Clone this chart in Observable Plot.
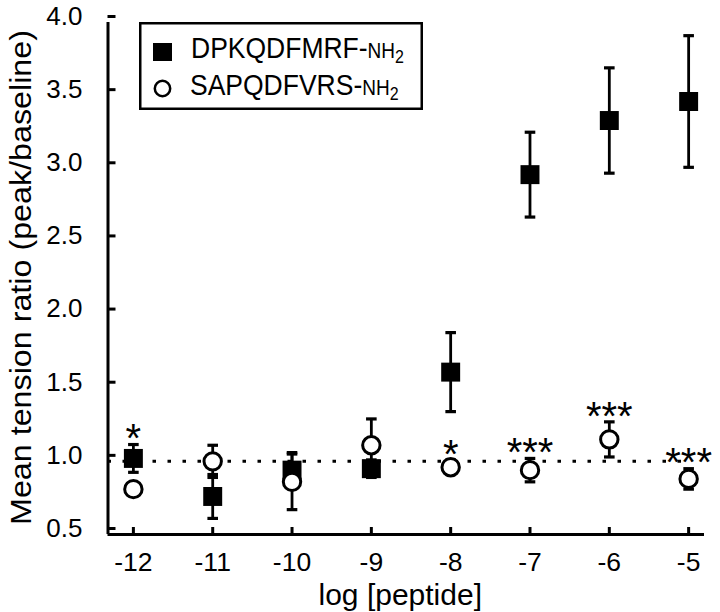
<!DOCTYPE html>
<html>
<head>
<meta charset="utf-8">
<script src="https://cdn.jsdelivr.net/npm/d3@7"></script>
<script src="https://cdn.jsdelivr.net/npm/@observablehq/plot@0.6"></script>
<style>
  body { margin: 0; background: #fff; }
  #wrap { position: relative; width: 720px; height: 612px; font-family: "Liberation Sans", Arial, Helvetica, sans-serif; }
  #legend { position: absolute; left: 139px; top: 22px; }
</style>
</head>
<body>
<div id="wrap"></div>
<script>
// ---- data ----
const conc = [-12, -11, -10, -9, -8, -7, -6, -5];
const seriesPeptide = ["DPKQDFMRF", "SAPQDFVRS"];
const seriesSuffix = "NH";
const seriesSub = "2";
const dpkMean = [1.02, 0.76, 0.94, 0.95, 1.61, 2.96, 3.33, 3.46];
const dpkSem  = [0.095, 0.15, 0.12, 0.06, 0.27, 0.29, 0.36, 0.45];
const sapMean = [0.81, 1.00, 0.86, 1.11, 0.96, 0.94, 1.15, 0.88];
const sapSem  = [0.02, 0.11, 0.19, 0.18, 0.05, 0.08, 0.12, 0.07];
const sigConc   = [-12, -8, -7, -6, -5];
const sigLabel  = ["*", "*", "***", "***", "***"];
const sigSeries = [0, 1, 1, 1, 1];
const yTicks = [0.5, 1.0, 1.5, 2.0, 2.5, 3.0, 3.5, 4.0];
const xTicks = conc;
const baseline = [1.0];
const xLabel = "log [peptide]";
const yLabel = "Mean tension ratio (peak/baseline)";

// ---- build tables ----
const means = [dpkMean, sapMean], sems = [dpkSem, sapSem];
const rows = [];
conc.forEach((c, i) => {
  rows.push({series: 0, conc: c, mean: dpkMean[i], sem: dpkSem[i]});
  rows.push({series: 1, conc: c, mean: sapMean[i], sem: sapSem[i]});
});
const sigRows = sigConc.map((c, i) => {
  const k = conc.indexOf(c), s = sigSeries[i];
  return {conc: c, label: sigLabel[i], top: means[s][k] + sems[s][k]};
});
const xDomain = [-12.32, -4.8];
const yDomain = [0.5, 4.0];
const FONT = "Liberation Sans, Arial, Helvetica, sans-serif";

const capSymbol = {
  draw(context, size) {
    const w = Math.sqrt(size / Math.PI);
    context.moveTo(-w, 0);
    context.lineTo(w, 0);
  }
};

const chart = Plot.plot({
  width: 720,
  height: 612,
  marginLeft: 107.5,
  marginRight: 16,
  marginTop: 22,
  marginBottom: 78,
  style: {fontFamily: FONT, background: "white", color: "black"},
  x: {domain: xDomain},
  y: {domain: yDomain},
  marks: [
    Plot.ruleY(baseline, {x1: xDomain[0], x2: conc[conc.length - 1], stroke: "black", strokeWidth: 3, strokeDasharray: "3.5,11.5"}),
    Plot.ruleX(rows, {x: "conc", y1: d => d.mean - d.sem, y2: d => d.mean + d.sem, stroke: "black", strokeWidth: 2.8}),
    Plot.dot(rows, {x: "conc", y: d => d.mean + d.sem, symbol: capSymbol, r: 5.3, fill: "none", stroke: "black", strokeWidth: 3.2}),
    Plot.dot(rows, {x: "conc", y: d => d.mean - d.sem, symbol: capSymbol, r: 5.3, fill: "none", stroke: "black", strokeWidth: 3.2}),
    Plot.dot(rows.filter(d => d.series === 0), {x: "conc", y: "mean", symbol: "square", r: 10.7, fill: "black", stroke: "none"}),
    Plot.dot(rows.filter(d => d.series === 1), {x: "conc", y: "mean", symbol: "circle", r: 8.7, fill: "white", stroke: "black", strokeWidth: 3}),
    Plot.text(sigRows, {x: "conc", y: "top", text: "label", fontSize: 40, dy: -5, fill: "black"}),
    Plot.ruleX([xDomain[0]], {stroke: "black", strokeWidth: 3}),
    Plot.ruleY([yDomain[0]], {stroke: "black", strokeWidth: 3}),
    Plot.axisX(xTicks, {tickSize: -7, tickPadding: 25, strokeWidth: 3, fontSize: 26.5, tickFormat: d => String(d), label: null}),
    Plot.axisY(yTicks, {tickSize: -8, tickPadding: 33.5, strokeWidth: 3, fontSize: 26, dy: -6, tickFormat: d => d.toFixed(1), label: null}),
    Plot.text([xLabel], {frameAnchor: "bottom", text: d => d, fontSize: 30, dy: 70, dx: -6, fill: "black"}),
    Plot.text([yLabel], {frameAnchor: "left", text: d => d, fontSize: 30, rotate: -90, dx: -86.5, dy: -1, fill: "black"})
  ]
});
document.getElementById("wrap").appendChild(chart);

// stretch the y-axis title along its length to match the reference
const TITLE_LEN = 495;
d3.select(chart).selectAll("text")
  .filter(function () { return this.textContent === yLabel; })
  .attr("text-anchor", "start")
  .attr("x", -TITLE_LEN / 2)
  .attr("textLength", TITLE_LEN)
  .attr("lengthAdjust", "spacingAndGlyphs");

// ---- legend (inside the plot area) ----
const lg = d3.select("#wrap").append("svg").attr("id", "legend")
  .attr("width", 284).attr("height", 88)
  .style("font-family", FONT);
lg.append("rect").attr("x", 1.25).attr("y", 1.25).attr("width", 281.5).attr("height", 85.5)
  .attr("fill", "white").attr("stroke", "black").attr("stroke-width", 2.5);
const rowY = [36, 73];
seriesPeptide.forEach((name, i) => {
  if (i === 0) {
    lg.append("rect").attr("x", 14).attr("y", 21).attr("width", 19).attr("height", 18).attr("fill", "black");
  } else {
    lg.append("circle").attr("cx", 23.5).attr("cy", 66.5).attr("r", 7.7)
      .attr("fill", "white").attr("stroke", "black").attr("stroke-width", 2.5);
  }
  const t = lg.append("text")
    .attr("transform", `translate(${i === 0 ? 52 : 51},${rowY[i]}) scale(1,1.13)`)
    .attr("fill", "black");
  t.append("tspan").attr("font-size", 26.5).text(name + "-");
  t.append("tspan").attr("font-size", 19).text(seriesSuffix);
  t.append("tspan").attr("font-size", 16).attr("dy", 4).text(seriesSub);
});
</script>
</body>
</html>
